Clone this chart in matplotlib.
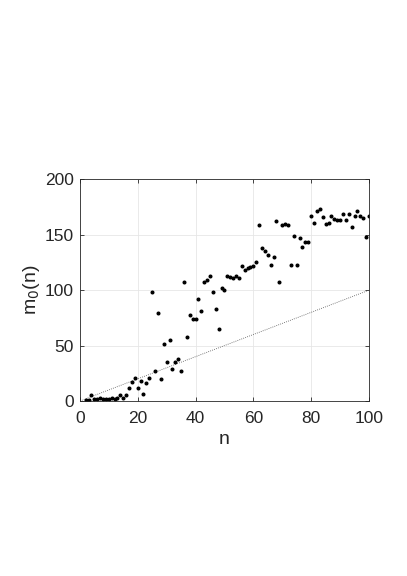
import numpy as np
import matplotlib
matplotlib.use('Agg')
import matplotlib.pyplot as plt

plt.rcParams['font.family'] = ['Liberation Sans', 'DejaVu Sans']

# n = 2..100
n = list(range(2, 101))
m0 = [1, 1, 5, 2, 2, 3, 2, 2, 2, 3,
      2, 3, 5, 3, 5, 12, 17, 21, 12, 18,
      6, 16, 21, 98, 27, 79, 20, 51, 35, 55,
      29, 35, 38, 27, 107, 58, 78, 74, 74, 92,
      81, 107, 109, 113, 98, 83, 65, 102, 100, 113,
      112, 111, 113, 111, 122, 118, 120, 121, 122, 125,
      159, 138, 135, 132, 123, 130, 162, 107, 159, 160,
      159, 123, 149, 123, 147, 139, 143, 143, 167, 161,
      171, 173, 166, 160, 161, 167, 164, 163, 163, 169,
      163, 169, 157, 167, 171, 167, 165, 148, 167]
ref_x = [0, 100]
ref_y = [0, 100]

fig = plt.figure(figsize=(4.07, 5.76), dpi=100)
ax = fig.add_axes([0.1963, 0.3038, 0.7103, 0.3849])

ax.plot(ref_x, ref_y, linestyle=(0, (1, 1.5)), color='#555555', linewidth=0.6)
ax.plot(n, m0, linestyle='none', marker='o', markersize=1.9, color='black')

ax.set_xlim(0, 100)
ax.set_ylim(0, 200)
ax.set_xticks([0, 20, 40, 60, 80, 100])
ax.set_yticks([0, 50, 100, 150, 200])
ax.grid(True, color='#e6e6e6', linewidth=0.6)
ax.set_axisbelow(True)
ax.tick_params(direction='in', top=True, right=True, labelsize=12.5,
               length=3, width=0.6, color='#262626', labelcolor='#262626')
ax.tick_params(axis='x', pad=7)
ax.tick_params(axis='y', pad=4.5)
for s in ax.spines.values():
    s.set_linewidth(0.6)
    s.set_color('#262626')

ax.set_xlabel('n', fontsize=14, color='#262626', labelpad=4)
ax.set_ylabel('m$_0$(n)', fontsize=14, color='#262626', labelpad=2)

fig.savefig('out.png', dpi=100)
